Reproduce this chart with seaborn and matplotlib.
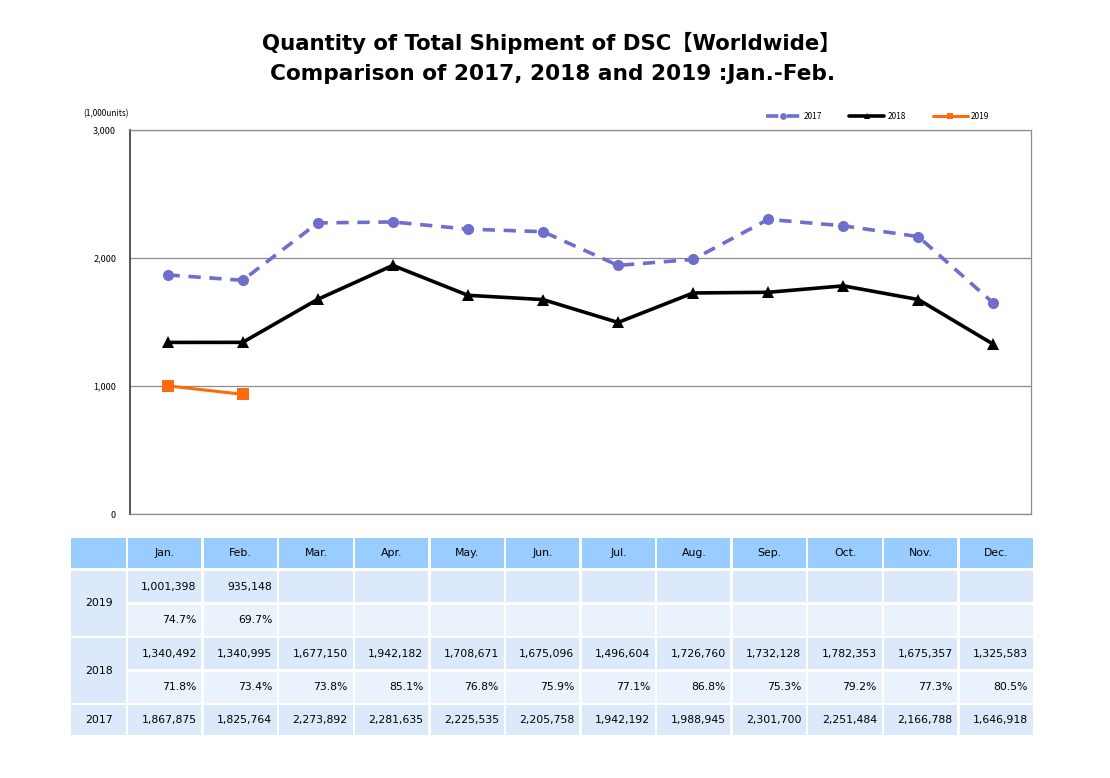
import seaborn as sns
import pandas as pd
import matplotlib.pyplot as plt
from matplotlib.patches import Rectangle

months = ['Jan.', 'Feb.', 'Mar.', 'Apr.', 'May.', 'Jun.', 'Jul.', 'Aug.',
          'Sep.', 'Oct.', 'Nov.', 'Dec.']
ship_2017 = [1867875, 1825764, 2273892, 2281635, 2225535, 2205758, 1942192,
             1988945, 2301700, 2251484, 2166788, 1646918]
ship_2018 = [1340492, 1340995, 1677150, 1942182, 1708671, 1675096, 1496604,
             1726760, 1732128, 1782353, 1675357, 1325583]
ship_2019 = [1001398, 935148]
pct_2018 = ['71.8%', '73.4%', '73.8%', '85.1%', '76.8%', '75.9%', '77.1%',
            '86.8%', '75.3%', '79.2%', '77.3%', '80.5%']
pct_2019 = ['74.7%', '69.7%']

W, H = 1110, 778
sns.set_style('white')
plt.rcParams['font.family'] = ['Noto Sans CJK JP', 'DejaVu Sans']
plt.rcParams['text.color'] = 'black'
plt.rcParams['ytick.color'] = 'black'

fig = plt.figure(figsize=(W / 100, H / 100), dpi=100)

# chart area
ax = fig.add_axes([130 / W, 1 - 514 / H, 901 / W, 384 / H])

df17 = pd.DataFrame({'m': range(12), 'v': [x / 1000 for x in ship_2017]})
df18 = pd.DataFrame({'m': range(12), 'v': [x / 1000 for x in ship_2018]})
df19 = pd.DataFrame({'m': range(len(ship_2019)), 'v': [x / 1000 for x in ship_2019]})

sns.lineplot(data=df17, x='m', y='v', ax=ax, color='#6E6ECC', lw=2.6,
             marker='o', markersize=8, markeredgewidth=0, label='2017',
             dashes=(3.4, 2.4))
sns.lineplot(data=df18, x='m', y='v', ax=ax, color='black', lw=2.6,
             marker='^', markersize=8, markeredgewidth=0, label='2018')
sns.lineplot(data=df19, x='m', y='v', ax=ax, color='#FF6A10', lw=2.2,
             marker='s', markersize=8, markeredgewidth=0, label='2019')

ax.set_xlim(-0.5, 11.5)
ax.set_ylim(0, 3000)
ax.set_xticks([])
ax.set_yticks([0, 1000, 2000, 3000])
ax.set_yticklabels(['0', '1,000', '2,000', '3,000'], fontsize=6.5)
ax.tick_params(axis='y', length=3, width=0.8, color='#666666', pad=7)
ax.set_xlabel('')
ax.set_ylabel('')
ax.grid(axis='y', color='#8c8c8c', lw=0.9)
for s in ax.spines.values():
    s.set_color('#8c8c8c')
    s.set_linewidth(0.9)
ax.spines['left'].set_color('#555555')
ax.spines['left'].set_linewidth(1.4)

fig.text(83 / W, 1 - 114 / H, '(1,000units)', fontsize=6, va='center')

ax.legend(loc='lower right', bbox_to_anchor=(0.962, 1.005), ncol=3,
          frameon=False, fontsize=6, handlelength=4.2, columnspacing=3.2,
          handletextpad=0.4, markerscale=0.6)

title_font = ['DejaVu Sans', 'Noto Sans CJK JP']
fig.text(551 / W, 1 - 43 / H, 'Quantity of Total Shipment of DSC【Worldwide】',
         fontsize=15.3, fontweight='bold', ha='center', va='center',
         family=title_font)
fig.text(553 / W, 1 - 74 / H, 'Comparison of 2017, 2018 and 2019 :Jan.-Feb.',
         fontsize=15.6, fontweight='bold', ha='center', va='center',
         family=title_font)

# table area
tx0, tx1, ty0, ty1 = 70, 1034, 537, 736
tax = fig.add_axes([tx0 / W, 1 - ty1 / H, (tx1 - tx0) / W, (ty1 - ty0) / H])
tax.set_xlim(tx0, tx1)
tax.set_ylim(ty1, ty0)
tax.axis('off')

head_c = '#99CCFF'
row_a = '#DCE9FA'
row_b = '#EAF2FC'
lab_w = 57
col_w = (tx1 - tx0 - lab_w) / 12
col_x = [tx0 + lab_w + i * col_w for i in range(12)]
fs = 7.8
tfont = 'DejaVu Sans'


def cell(x, y0, y1, w, color, text=None, align='right'):
    tax.add_patch(Rectangle((x + 1.2, y0 + 1.2), w - 2.4, y1 - y0 - 2.4,
                            facecolor=color, edgecolor='none'))
    if text is not None:
        if align == 'right':
            tax.text(x + w - 6, (y0 + y1) / 2, text, ha='right', va='center',
                     fontsize=fs, family=tfont)
        else:
            tax.text(x + w / 2, (y0 + y1) / 2, text, ha='center', va='center',
                     fontsize=fs, family=tfont)


# header
cell(tx0, 537, 569, lab_w, head_c)
for i, m in enumerate(months):
    cell(col_x[i], 537, 569, col_w, head_c, m, align='center')

rows = [
    ('2019', 570, 637, [f'{v:,}' for v in ship_2019], pct_2019),
    ('2018', 637, 704, [f'{v:,}' for v in ship_2018], pct_2018),
]
for lab, y0, y1, vals, pcts in rows:
    ym = (y0 + y1) / 2
    cell(tx0, y0, y1, lab_w, row_a, lab, align='center')
    for i in range(12):
        cell(col_x[i], y0, ym, col_w, row_a, vals[i] if i < len(vals) else None)
        cell(col_x[i], ym, y1, col_w, row_b, pcts[i] if i < len(pcts) else None)

cell(tx0, 704, 736, lab_w, row_a, '2017', align='center')
for i in range(12):
    cell(col_x[i], 704, 736, col_w, row_a, f'{ship_2017[i]:,}')

fig.savefig('out.png', dpi=100, facecolor='white')
